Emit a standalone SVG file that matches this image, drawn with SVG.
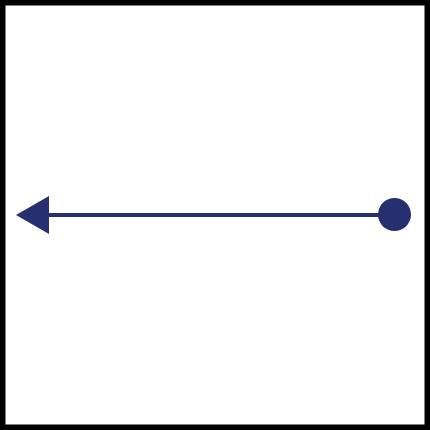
<svg xmlns="http://www.w3.org/2000/svg" width="430" height="430" viewBox="0 0 430 430">
  <style>
    .frame { fill: #ffffff; stroke: #000000; stroke-width: 5.5; }
    .conn { stroke: #263070; stroke-width: 4; fill: none; }
    .ink { fill: #263070; }
  </style>
  <rect class="frame" x="2.75" y="2.75" width="424.5" height="424.5"/>
  <g id="connectors">
    <line class="conn" x1="394.5" y1="215" x2="46" y2="215"/>
    <polygon class="ink" points="16,215 49,196 49,234"/>
  </g>
  <g id="start-node">
    <circle class="ink" cx="394.5" cy="214.5" r="16.5"/>
  </g>
</svg>
